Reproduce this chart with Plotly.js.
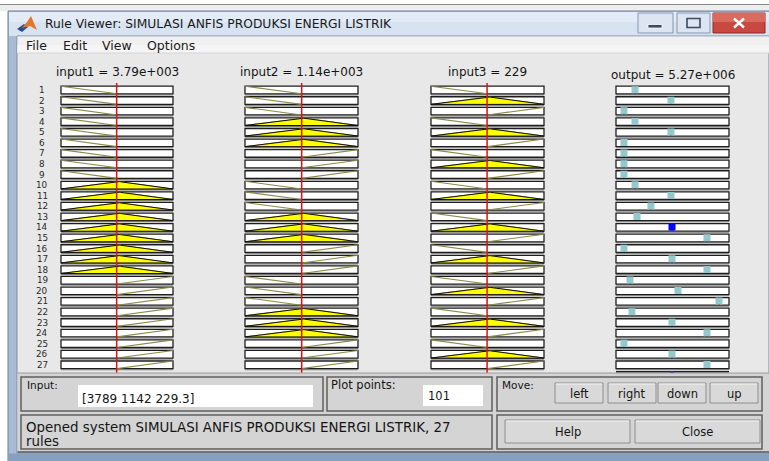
<!DOCTYPE html>
<html><head><meta charset="utf-8">
<script src="https://cdn.plot.ly/plotly-3.0.1.min.js"></script>
<style>html,body{margin:0;padding:0;background:#ffffff;overflow:hidden}#plot{width:769px;height:461px}</style>
</head><body><div id="plot"></div>
<script>
// ---------------- data ----------------
const windowTitle = 'Rule Viewer: SIMULASI ANFIS PRODUKSI ENERGI LISTRIK';
const menuItems = ['File', 'Edit', 'View', 'Options'];
const inputNames = ['input1', 'input2', 'input3'];
const inputValues = [3789, 1142, 229.3];
const outputName = 'output';
const outputValue = 5.27e6;
const ruleNumbers = [1,2,3,4,5,6,7,8,9,10,11,12,13,14,15,16,17,18,19,20,21,22,23,24,25,26,27];
// membership function used by each rule (0 = low, 1 = mid, 2 = high)
const in1MfIndex = [0,0,0,0,0,0,0,0,0,1,1,1,1,1,1,1,1,1,2,2,2,2,2,2,2,2,2];
const in2MfIndex = [0,0,0,1,1,1,2,2,2,0,0,0,1,1,1,2,2,2,0,0,0,1,1,1,2,2,2];
const in3MfIndex = [0,1,2,0,1,2,0,1,2,0,1,2,0,1,2,0,1,2,0,1,2,0,1,2,0,1,2];
const in1Range = [2000, 5600];
const in2Range = [490, 1790];
const in3Range = [130, 330];
const in1MfParams = [[200, 2000, 3800], [2000, 3800, 5600], [3800, 5600, 7400]];
const in2MfParams = [[-160, 490, 1140], [490, 1140, 1790], [1140, 1790, 2440]];
const in3MfParams = [[30, 130, 230], [130, 230, 330], [230, 330, 430]];
const outRange = [0, 10.63e6];
const ruleOutputs = [1.79e6, 5.17e6, 0.75e6, 1.79e6, 5.17e6, 0.75e6, 0.75e6, 0.75e6, 0.75e6,
                     1.79e6, 5.17e6, 3.29e6, 1.98e6, 5.27e6, 8.56e6, 0.75e6, 5.27e6, 8.56e6,
                     1.32e6, 5.83e6, 9.69e6, 1.50e6, 5.27e6, 8.56e6, 0.75e6, 5.27e6, 8.56e6];
const firedRule = 14;
const plotPoints = 101;
const statusLines = ['Opened system SIMULASI ANFIS PRODUKSI ENERGI LISTRIK, 27', 'rules'];
const moveButtons = ['left', 'right', 'down', 'up'];
const bottomButtons = ['Help', 'Close'];

// ---------------- layout helpers ----------------
const W = 769, H = 461;
const px = x => x / W;
const py = y => 1 - y / H;
const FONT = 'DejaVu Sans, Verdana, sans-serif';
const shapes = [];
const ann = [];
function rect(x0, y0, x1, y1, fill, line, lw) {
  shapes.push({type: 'rect', xref: 'paper', yref: 'paper', layer: 'below',
    x0: px(x0), x1: px(x1), y0: py(y1), y1: py(y0),
    fillcolor: fill || 'rgba(0,0,0,0)',
    line: {color: line || 'rgba(0,0,0,0)', width: lw == null ? 1 : lw}});
}
function seg(x0, y0, x1, y1, color, lw) {
  shapes.push({type: 'line', xref: 'paper', yref: 'paper', layer: 'below',
    x0: px(x0), x1: px(x1), y0: py(y0), y1: py(y1), line: {color: color, width: lw}});
}
function txt(t, x, y, size, extra) {
  const a = {text: t, x: px(x), y: py(y), xref: 'paper', yref: 'paper', showarrow: false, borderpad: 0,
    xanchor: 'left', yanchor: 'middle', font: {family: FONT, size: size, color: '#151515'}};
  if (extra) Object.assign(a, extra);
  ann.push(a);
}
function matFmt(v) {
  if (Math.abs(v) >= 1000) {
    const parts = v.toExponential(2).split('e');
    return parts[0] + 'e' + parts[1][0] + parts[1].slice(1).padStart(3, '0');
  }
  return String(Number(v.toPrecision(3)));
}
function P(x, y) { return px(x) + ',' + py(y); }

// ---------------- window chrome ----------------
rect(0, 0, 769, 4.5, '#ffffff');
seg(0, 4.5, 769, 4.5, '#8a8a8a', 1.2);
rect(0, 5, 769, 11, '#eeeeee');
rect(8, 11, 769, 461, '#a9bbd2', '#6f819c', 1);           // window frame
rect(9, 12, 769, 36, '#d8e3f1');                          // title bar
rect(9, 12, 769, 22, '#e3ebf6');
rect(17, 36, 769, 453, '#e8e8e8', '#7a8aa2', 1);          // client area
rect(17.5, 36.5, 769, 53, '#f0f0f0');                     // menu bar
rect(17.5, 45, 769, 53, '#f5f5f5');
seg(17.5, 53, 769, 53, '#d6d6d6', 1);
rect(17.5, 373, 769, 452.5, '#d4d4d4');                   // bottom panel
seg(17.5, 373, 769, 373, '#9a9a9a', 1);
seg(17.5, 452, 769, 452, '#555555', 1.5);
rect(8, 453.5, 769, 461, '#86a0c2');                      // bottom frame

// MATLAB icon
shapes.push({type: 'path', xref: 'paper', yref: 'paper', layer: 'below',
  path: 'M' + P(17, 29) + 'L' + P(24, 24) + 'L' + P(28, 27) + 'L' + P(22, 32) + 'Z',
  fillcolor: '#2c4f8c', line: {width: 0}});
shapes.push({type: 'path', xref: 'paper', yref: 'paper', layer: 'below',
  path: 'M' + P(22, 28) + 'L' + P(27, 22) + 'L' + P(31, 16) + 'L' + P(37, 30) + 'L' + P(30, 26) + 'Z',
  fillcolor: '#e3762a', line: {width: 0}});

// title bar buttons
rect(638, 13, 673, 33, '#dce5f1', '#8496b0', 1);
rect(648, 24.5, 662, 28, '#3c4a5e', '#ffffff', 0.8);
rect(677, 13, 710, 33, '#dce5f1', '#8496b0', 1);
rect(687, 18.5, 700, 27.5, 'rgba(0,0,0,0)', '#3c4a5e', 1.6);
rect(713, 13, 765, 33, '#c9483f', '#8c2a22', 1);
rect(713, 13, 765, 22, '#d96a60');
seg(734, 18.5, 744, 27.5, '#ffffff', 2.4);
seg(734, 27.5, 744, 18.5, '#ffffff', 2.4);

txt(windowTitle, 44, 24.5, 12.3, {font: {family: FONT, size: 12.3, color: '#1a1a1a'}});
const menuX = [25, 62, 101, 146];
menuItems.forEach((m, k) => txt(m, menuX[k], 45, 12.5, {font: {family: FONT, size: 12.5, color: '#1a1a1a'}}));

// ---------------- bottom controls ----------------
const panelLine = '#5f5f5f';
rect(21, 377, 323, 411, 'rgba(0,0,0,0)', panelLine, 1.5);
rect(327, 377, 492, 411, 'rgba(0,0,0,0)', panelLine, 1.5);
rect(497, 377, 762, 411, 'rgba(0,0,0,0)', panelLine, 1.5);
rect(21, 415, 492, 449, 'rgba(0,0,0,0)', panelLine, 1.5);
rect(497, 415, 762, 449, 'rgba(0,0,0,0)', panelLine, 1.5);
rect(78, 385, 313, 407, '#ffffff');
rect(423, 385, 483, 406, '#ffffff');
txt('Input:', 26, 385, 10.5);
txt('[' + inputValues.join(' ') + ']', 81, 399, 12);
txt('Plot points:', 330, 385, 11.5);
txt(String(plotPoints), 427, 396, 11.5);
txt('Move:', 501, 385, 10.5);
const moveBtnX = [[555, 603], [608, 656], [658, 706], [710, 758]];
moveButtons.forEach((b, k) => {
  rect(moveBtnX[k][0], 383, moveBtnX[k][1], 403, '#d9d9d9', '#8e8e8e', 1);
  seg(moveBtnX[k][0] + 1, 384, moveBtnX[k][1] - 1, 384, '#f4f4f4', 1);
  txt(b, (moveBtnX[k][0] + moveBtnX[k][1]) / 2, 393.5, 11.5, {xanchor: 'center'});
});
const botBtnX = [[505, 630], [635, 760]];
bottomButtons.forEach((b, k) => {
  rect(botBtnX[k][0], 420, botBtnX[k][1], 443, '#d9d9d9', '#8e8e8e', 1);
  seg(botBtnX[k][0] + 1, 421, botBtnX[k][1] - 1, 421, '#f4f4f4', 1);
  txt(b, (botBtnX[k][0] + botBtnX[k][1]) / 2, 432, 11.5, {xanchor: 'center'});
});
txt(statusLines[0], 25, 427, 13.4);
txt(statusLines[1], 25, 441, 13.4);

// ---------------- rule plots ----------------
const rowTopPx = 86.2, pitchPx = 10.57, boxH = 0.72;
const yTop = -0.3, yBot = 27.1;
const yDomain = [py(rowTopPx + yBot * pitchPx), py(rowTopPx + yTop * pitchPx)];
const boxPx = [[61, 173], [245, 358], [431, 544], [616, 729]];
const inputs = [
  {name: inputNames[0], value: inputValues[0], range: in1Range, mfs: in1MfParams, idx: in1MfIndex},
  {name: inputNames[1], value: inputValues[1], range: in2Range, mfs: in2MfParams, idx: in2MfIndex},
  {name: inputNames[2], value: inputValues[2], range: in3Range, mfs: in3MfParams, idx: in3MfIndex}
];
function trimf(x, p) {
  if (x <= p[0] || x >= p[2]) return (x === p[1]) ? 1 : 0;
  return x <= p[1] ? (x - p[0]) / (p[1] - p[0]) : (p[2] - x) / (p[2] - p[1]);
}
function axisFor(k, range) {
  const b = boxPx[k];
  const upp = (range[1] - range[0]) / (b[1] - b[0]);
  const pad = 3;
  return {domain: [px(b[0] - pad), px(b[1] + pad)], range: [range[0] - pad * upp, range[1] + pad * upp],
    visible: false, fixedrange: true, anchor: 'y', showgrid: false, zeroline: false};
}
const layout = {
  width: W, height: H, autosize: false, margin: {l: 0, r: 0, t: 0, b: 0, pad: 0},
  paper_bgcolor: '#ffffff', plot_bgcolor: 'rgba(0,0,0,0)', showlegend: false,
  yaxis: {domain: yDomain, range: [yBot, yTop], visible: false, fixedrange: true, showgrid: false, zeroline: false},
  shapes: shapes, annotations: ann
};
const axNames = ['x', 'x2', 'x3', 'x4'];
inputs.forEach((inp, k) => { layout[k === 0 ? 'xaxis' : 'xaxis' + (k + 1)] = axisFor(k, inp.range); });
layout.xaxis4 = axisFor(3, outRange);

function addBox(k, range, i) {
  shapes.push({type: 'line', xref: axNames[k], yref: 'y', layer: 'below',
    x0: range[0], x1: range[1], y0: i + boxH + 0.11, y1: i + boxH + 0.11, line: {color: '#8c8c8c', width: 1}});
  shapes.push({type: 'rect', xref: axNames[k], yref: 'y', layer: 'below',
    x0: range[0], x1: range[1], y0: i, y1: i + boxH, fillcolor: '#ffffff', line: {color: '#1e1e1e', width: 1.3}});
}

const traces = [];
inputs.forEach((inp, k) => {
  const r0 = inp.range[0], r1 = inp.range[1];
  const xs = [];
  for (let s = 0; s < plotPoints; s++) xs.push(r0 + (r1 - r0) * s / (plotPoints - 1));
  const lx = [], ly = [], fx = [], fy = [];
  ruleNumbers.forEach((rn, i) => {
    addBox(k, inp.range, i);
    const p = inp.mfs[inp.idx[i]];
    const deg = trimf(inp.value, p);
    const mu = xs.map(x => trimf(x, p));
    xs.forEach((x, s) => {
      const near = mu[s] > 0 || (s > 0 && mu[s - 1] > 0) || (s < xs.length - 1 && mu[s + 1] > 0);
      if (near) { lx.push(x); ly.push(i + boxH * (1 - mu[s])); }
    });
    lx.push(null); ly.push(null);
    if (deg > 0.02) {
      xs.forEach((x, s) => { fx.push(x); fy.push(i + boxH * (1 - Math.min(mu[s], deg))); });
      fx.push(r1, r0, null); fy.push(i + boxH, i + boxH, null);
    }
  });
  traces.push({type: 'scatter', mode: 'lines', xaxis: axNames[k], yaxis: 'y', x: lx, y: ly,
    line: {color: '#8a8a48', width: 1.1}, connectgaps: false, hoverinfo: 'skip'});
  traces.push({type: 'scatter', mode: 'lines', xaxis: axNames[k], yaxis: 'y', x: fx, y: fy,
    fill: 'toself', fillcolor: '#ffff00', line: {color: '#111111', width: 1}, connectgaps: false, hoverinfo: 'skip'});
  traces.push({type: 'scatter', mode: 'lines', xaxis: axNames[k], yaxis: 'y',
    x: [inp.value, inp.value], y: [yTop, yBot], line: {color: '#e01010', width: 1.5}, hoverinfo: 'skip'});
  ann.push({text: inp.name + ' = ' + matFmt(inp.value), xref: axNames[k] + ' domain', x: 0.5, yref: 'paper', y: py(72),
    showarrow: false, borderpad: 0, xanchor: 'center', yanchor: 'middle', font: {family: FONT, size: 12, color: '#151515'}});
});

// output column
ruleNumbers.forEach((rn, i) => addBox(3, outRange, i));
shapes.push({type: 'line', xref: 'x4', yref: 'y', layer: 'below', x0: outRange[0], x1: outRange[1], y0: 27.02, y1: 27.02,
  line: {color: '#222222', width: 1.5}});
const sx = [], sy = [];
ruleNumbers.forEach((rn, i) => { sx.push(ruleOutputs[i], ruleOutputs[i], null); sy.push(i + 0.56, i + boxH, null); });
traces.push({type: 'scatter', mode: 'lines', xaxis: 'x4', yaxis: 'y', x: sx, y: sy,
  line: {color: '#222222', width: 1}, hoverinfo: 'skip'});
traces.push({type: 'scatter', mode: 'markers', xaxis: 'x4', yaxis: 'y', x: ruleOutputs,
  y: ruleNumbers.map((rn, i) => i + 0.33),
  marker: {symbol: 'square', size: 7, color: ruleNumbers.map(rn => rn === firedRule ? '#0000ff' : '#93c8cc'), line: {width: 0}},
  hoverinfo: 'skip'});
traces.push({type: 'scatter', mode: 'lines', xaxis: 'x4', yaxis: 'y', x: [outputValue, outputValue], y: [26.98, yBot],
  line: {color: '#3030ff', width: 3}, hoverinfo: 'skip'});
ann.push({text: outputName + ' = ' + matFmt(outputValue), xref: 'x4 domain', x: 0.5, yref: 'paper', y: py(75),
  showarrow: false, borderpad: 0, xanchor: 'center', yanchor: 'middle', font: {family: FONT, size: 12, color: '#151515'}});

// rule numbers
ruleNumbers.forEach((rn, i) => {
  ann.push({text: String(rn), xref: 'paper', x: px(42), yref: 'y', y: i + boxH / 2, showarrow: false, borderpad: 0,
    xanchor: 'center', yanchor: 'middle', font: {family: FONT, size: 8.8, color: '#2a2a2a'}});
});

Plotly.newPlot('plot', traces, layout, {staticPlot: true, displayModeBar: false});
</script>
</body></html>
